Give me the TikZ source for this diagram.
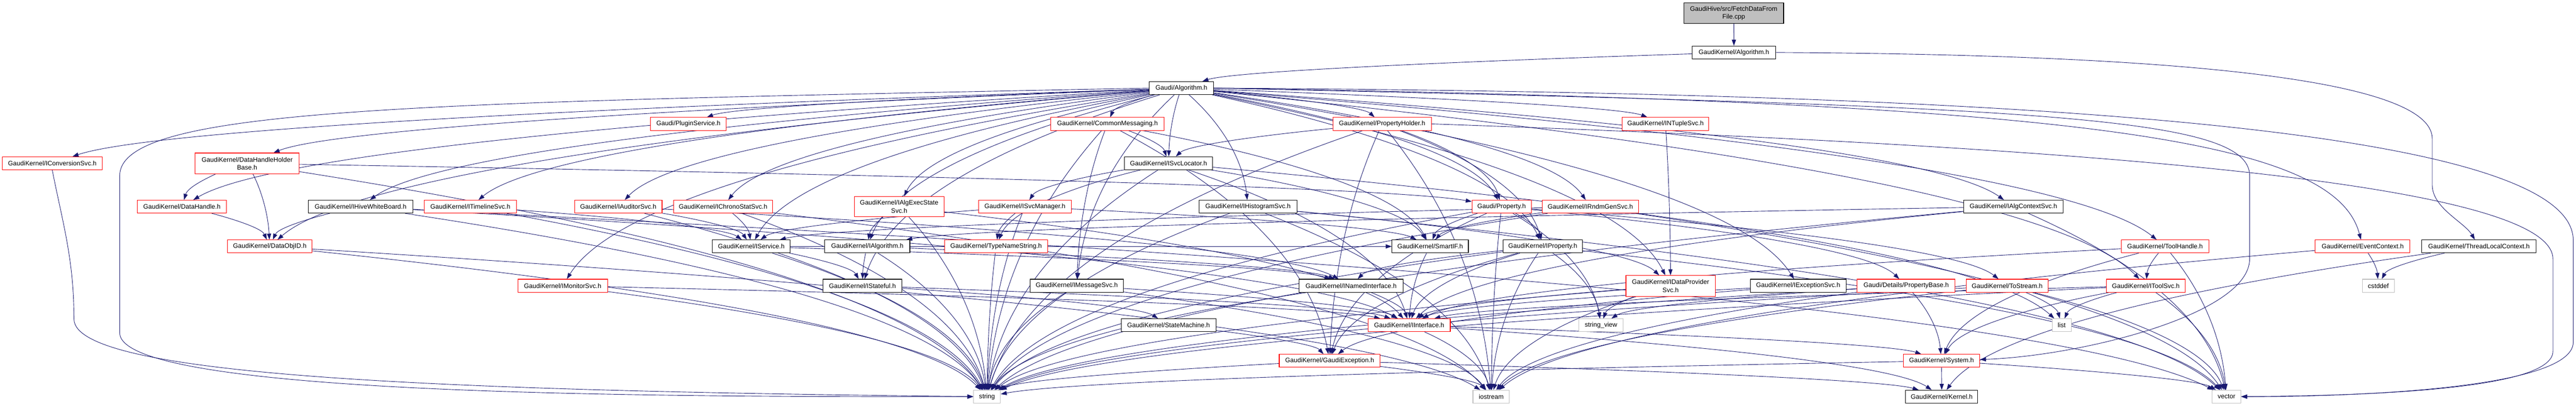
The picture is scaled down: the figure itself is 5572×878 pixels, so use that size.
\documentclass[tikz,border=0pt]{standalone}
\usepackage{fontspec}
\setmainfont{Liberation Sans}
\usetikzlibrary{arrows.meta,calc}

\definecolor{edgeblue}{RGB}{25,25,112}
\definecolor{sysgray}{RGB}{191,191,191}

\pgfdeclarelayer{edges}
\pgfsetlayers{edges,main}

% one include arrow, and a list of them from the same file
\newcommand\incarrow[2]{%
  \draw[incl] let \p1=(#1), \p2=(#2) in
    (#1) .. controls ({\x1+0.4*(\x2-\x1)},{\y1+0.2*(\y2-\y1)})
    and ({\x2-0.1*(\x2-\x1)},{\y2-0.5*(\y2-\y1)}) .. (#2);}
\newcommand\incarrows[2]{\foreach \dst in {#2}{\incarrow{#1}{\dst}}}

\begin{document}
\begin{tikzpicture}[x=1pt, y=-1pt,
  every node/.style = {shape=rectangle, draw, fill=white, line width=1.2pt, inner sep=0pt,
    minimum height=28pt, align=center, font=\fontsize{14}{17}\selectfont},
  redbox/.style = {draw=red},
  blackbox/.style = {draw=black},
  sysbox/.style = {draw=sysgray},
  filebox/.style = {draw=black, fill=sysgray},
  incl/.style = {draw=edgeblue, line width=1pt, -{Triangle[length=13pt,width=9pt]}}]
  \useasboundingbox (0,0) rectangle (5572,878);

  % the file and its direct include
  \node[filebox, minimum width=216pt, minimum height=45pt] (fetch) at (3750,28.5) {GaudiHive/src/FetchDataFrom\\File.cpp};
  \node[blackbox, minimum width=181pt] (kalg) at (3750.5,113.5) {GaudiKernel/Algorithm.h};
  \node[blackbox, minimum width=139pt] (galg) at (2555.5,190.5) {Gaudi/Algorithm.h};

  % rank 3
  \node[redbox, minimum width=164pt] (plugin) at (1489,268) {Gaudi/PluginService.h};
  \node[redbox, minimum width=245pt] (cmsg) at (2395.5,268) {GaudiKernel/CommonMessaging.h};
  \node[redbox, minimum width=213pt] (pholder) at (2989.5,268) {GaudiKernel/PropertyHolder.h};
  \node[redbox, minimum width=187pt] (ntuple) at (3602.5,268) {GaudiKernel/INTupleSvc.h};

  % rank 4
  \node[redbox, minimum width=216pt] (iconv) at (113,353) {GaudiKernel/IConversionSvc.h};
  \node[redbox, minimum width=225pt, minimum height=45pt] (dhhb) at (534.5,353.5) {GaudiKernel/DataHandleHolder\\Base.h};
  \node[blackbox, minimum width=191pt] (isvcloc) at (2527.5,353) {GaudiKernel/ISvcLocator.h};

  % rank 5
  \node[redbox, minimum width=193pt] (dhandle) at (393.5,447) {GaudiKernel/DataHandle.h};
  \node[blackbox, minimum width=226pt] (ihive) at (780,447) {GaudiKernel/IHiveWhiteBoard.h};
  \node[redbox, minimum width=199pt] (itimeline) at (1017.5,447) {GaudiKernel/ITimelineSvc.h};
  \node[redbox, minimum width=189pt] (iauditor) at (1337.5,447) {GaudiKernel/IAuditorSvc.h};
  \node[redbox, minimum width=214pt] (ichrono) at (1564,447) {GaudiKernel/IChronoStatSvc.h};
  \node[redbox, minimum width=194pt, minimum height=44pt] (iexecst) at (1945,447) {GaudiKernel/IAlgExecState\\Svc.h};
  \node[redbox, minimum width=200pt] (isvcmgr) at (2217,447) {GaudiKernel/ISvcManager.h};
  \node[blackbox, minimum width=211pt] (ihisto) at (2699.5,447) {GaudiKernel/IHistogramSvc.h};
  \node[redbox, minimum width=128pt] (gprop) at (3248,447) {Gaudi/Property.h};
  \node[redbox, minimum width=208pt] (irndm) at (3440,447) {GaudiKernel/IRndmGenSvc.h};
  \node[blackbox, minimum width=216pt] (ialgctx) at (4355,447) {GaudiKernel/IAlgContextSvc.h};

  % rank 6
  \node[redbox, minimum width=183pt] (dobjid) at (583.5,533) {GaudiKernel/DataObjID.h};
  \node[blackbox, minimum width=168pt] (iservice) at (1625,533) {GaudiKernel/IService.h};
  \node[blackbox, minimum width=184pt] (ialg) at (1876,533) {GaudiKernel/IAlgorithm.h};
  \node[redbox, minimum width=223pt] (typename) at (2154.5,533) {GaudiKernel/TypeNameString.h};
  \node[blackbox, minimum width=165pt] (smartif) at (3093.5,533) {GaudiKernel/SmartIF.h};
  \node[blackbox, minimum width=172pt] (iprop) at (3337,533) {GaudiKernel/IProperty.h};
  \node[redbox, minimum width=190pt] (toolh) at (4683,533) {GaudiKernel/ToolHandle.h};
  \node[redbox, minimum width=205pt] (evctx) at (5110.5,533) {GaudiKernel/EventContext.h};
  \node[blackbox, minimum width=248pt] (tlctx) at (5362,533) {GaudiKernel/ThreadLocalContext.h};

  % rank 7
  \node[redbox, minimum width=194pt] (imonitor) at (1217,618) {GaudiKernel/IMonitorSvc.h};
  \node[blackbox, minimum width=171pt] (istateful) at (1865.5,618) {GaudiKernel/IStateful.h};
  \node[blackbox, minimum width=202pt] (imsgsvc) at (2329,618) {GaudiKernel/IMessageSvc.h};
  \node[blackbox, minimum width=225pt] (inamed) at (2922.5,618) {GaudiKernel/INamedInterface.h};
  \node[redbox, minimum width=193pt, minimum height=45pt] (idataprov) at (3613.5,618.5) {GaudiKernel/IDataProvider\\Svc.h};
  \node[blackbox, minimum width=207pt] (iexcept) at (3889.5,618) {GaudiKernel/IExceptionSvc.h};
  \node[redbox, minimum width=212pt] (propbase) at (4123,618) {Gaudi/Details/PropertyBase.h};
  \node[redbox, minimum width=177pt] (tostream) at (4341.5,618) {GaudiKernel/ToStream.h};
  \node[redbox, minimum width=171pt] (itoolsvc) at (4641.5,618) {GaudiKernel/IToolSvc.h};
  \node[sysbox, minimum width=69pt] (cstd) at (5144.5,618) {cstddef};

  % rank 8
  \node[blackbox, minimum width=205pt] (statem) at (2527.5,703.5) {GaudiKernel/StateMachine.h};
  \node[redbox, minimum width=178pt] (iiface) at (3048,703.5) {GaudiKernel/IInterface.h};
  \node[sysbox, minimum width=96pt] (sview) at (3463,703.5) {string\_view};
  \node[sysbox, minimum width=41pt] (lst) at (4459.5,703.5) {list};

  % rank 9
  \node[redbox, minimum width=218pt] (gexc) at (2876,780.5) {GaudiKernel/GaudiException.h};
  \node[redbox, minimum width=165pt] (system) at (4199.5,780.5) {GaudiKernel/System.h};

  % rank 10
  \node[sysbox, minimum width=58pt] (str) at (2135,858) {string};
  \node[sysbox, minimum width=79pt] (ios) at (3225.5,858) {iostream};
  \node[blackbox, minimum width=156pt] (kernel) at (4200,858) {GaudiKernel/Kernel.h};
  \node[sysbox, minimum width=62pt] (vec) at (4816,858) {vector};

  \begin{pgfonlayer}{edges}
    \incarrow{fetch}{kalg}
    \incarrow{kalg}{galg}
    % long ones round the right side
    \draw[incl] (kalg.east) .. controls (4700,118) and (5261,170) .. (5261,300)
      -- (5261,400) .. controls (5261,450) and (5330,480) .. (tlctx);
    \draw[incl] (galg.east) .. controls (4200,200) and (5566,260) .. (5566,520)
      -- (5566,740) .. controls (5566,840) and (5100,858) .. (vec);
    \draw[incl] (pholder.east) .. controls (4300,310) and (5522,380) .. (5522,560)
      -- (5522,760) .. controls (5522,845) and (5100,856) .. (vec);
    \draw[incl] (galg.east) .. controls (4400,230) and (4866,250) .. (4866,380)
      -- (4866,560) .. controls (4866,680) and (4500,770) .. (system);
    \draw[incl] (galg.east) .. controls (4500,220) and (5050,300) .. (evctx);
    % long ones round the left side
    \draw[incl] (galg.west) .. controls (900,222) and (259,232) .. (259,380)
      -- (259,720) .. controls (259,860) and (1500,858) .. (str);
    \draw[incl] (iconv.south) .. controls (135,480) and (160,560) .. (160,690)
      .. controls (160,810) and (900,845) .. (str);

    \incarrows{galg}{plugin,cmsg,pholder,ntuple,iconv,dhhb,isvcloc,dhandle,ihive,itimeline,iauditor,ichrono,iexecst,ihisto,gprop,irndm,ialgctx,dobjid,iservice,ialg,iprop,toolh,imonitor,istateful,imsgsvc,idataprov,iexcept,itoolsvc}
    \incarrows{cmsg}{isvcloc,imsgsvc,smartif,gexc,str}
    \incarrows{pholder}{gprop,iprop,isvcloc,gexc,ios,str}
    \incarrow{ntuple}{idataprov}
    \incarrows{isvcloc}{isvcmgr,typename,iiface,smartif,lst,str}
    \incarrows{dhhb}{dhandle,dobjid,gprop,str}
    \incarrow{dhandle}{dobjid}
    \incarrows{dobjid}{str,ios}
    \incarrows{ihive}{dobjid,iiface,str,vec}
    \incarrows{itimeline}{iservice,str}
    \incarrows{iauditor}{iservice,inamed,str}
    \incarrows{ichrono}{iservice,ios,str}
    \incarrows{iexecst}{ialg,iiface,str}
    \incarrows{isvcmgr}{typename,iservice,smartif,str}
    \incarrows{ihisto}{idataprov,ios,str,vec}
    \incarrows{gprop}{propbase,tostream,iprop,smartif,gexc,sview,ios,str}
    \incarrows{irndm}{iservice,smartif,str,vec}
    \incarrows{ialgctx}{ialg,iiface,str,vec}
    \incarrows{toolh}{itoolsvc,iiface,system,vec}
    \incarrows{evctx}{cstd,ios}
    \incarrows{tlctx}{cstd,kernel}
    \incarrows{iservice}{istateful,inamed,smartif,str}
    \incarrows{ialg}{istateful,inamed,str}
    \incarrow{typename}{str}
    \incarrow{smartif}{iiface}
    \incarrows{iprop}{inamed,iiface,sview,gexc,ios,str,vec}
    \incarrows{imonitor}{iiface,str}
    \incarrows{istateful}{statem,iiface}
    \incarrows{imsgsvc}{iiface,ios,str}
    \incarrows{inamed}{iiface,str}
    \incarrows{idataprov}{iiface,sview,ios,str}
    \incarrows{iexcept}{iiface,gexc}
    \incarrows{propbase}{system,sview,ios,str}
    \incarrows{tostream}{lst,ios,vec,str}
    \incarrows{itoolsvc}{lst,system,iiface,str,vec}
    \incarrow{statem}{gexc}
    \incarrows{iiface}{system,kernel,ios}
    \incarrows{gexc}{kernel,ios,str}
    \incarrows{system}{kernel,str,vec}
  \end{pgfonlayer}
\end{tikzpicture}
\end{document}
